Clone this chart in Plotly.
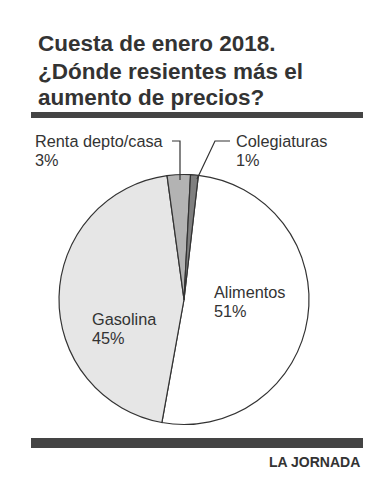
import plotly.graph_objects as go

W, H = 386, 500

categories = ["Alimentos", "Gasolina", "Renta depto/casa", "Colegiaturas"]
values = [51, 45, 3, 1]
pct_labels = ["51%", "45%", "3%", "1%"]
colors = ["#ffffff", "#e6e6e6", "#b3b3b3", "#7f7f7f"]

title_lines = ["Cuesta de enero 2018.", "¿Dónde resientes más el", "aumento de precios?"]
source = "LA JORNADA"


def px(x):
    return x / W


def py(y):
    return 1 - y / H


fig = go.Figure()
fig.add_trace(go.Pie(
    labels=categories,
    values=values,
    sort=False,
    direction="clockwise",
    rotation=6.6,
    marker=dict(colors=colors, line=dict(color="#333333", width=1.2)),
    textinfo="none",
    hoverinfo="skip",
    showlegend=False,
    domain=dict(x=[px(59), px(309)], y=[py(425), py(174)]),
))

shapes = []
# bars
shapes.append(dict(type="rect", xref="paper", yref="paper",
                   x0=px(31), x1=px(363), y0=py(118), y1=py(112),
                   fillcolor="#444444", line=dict(width=0)))
shapes.append(dict(type="rect", xref="paper", yref="paper",
                   x0=px(31), x1=px(363), y0=py(448), y1=py(438),
                   fillcolor="#444444", line=dict(width=0)))
# leader lines
shapes.append(dict(type="path", xref="paper", yref="paper",
                   path=f"M {px(172)},{py(141)} L {px(180)},{py(141)} L {px(180)},{py(180)}",
                   line=dict(color="#333333", width=1.2)))
shapes.append(dict(type="path", xref="paper", yref="paper",
                   path=f"M {px(230)},{py(141)} L {px(215)},{py(141)} L {px(197)},{py(179)}",
                   line=dict(color="#333333", width=1.2)))

annotations = []
FONT = "Liberation Sans, Arial, sans-serif"
for i, line in enumerate(title_lines):
    annotations.append(dict(text=f"<b>{line}</b>", x=px(36), y=py(44 + 27 * i),
                            xref="paper", yref="paper", xanchor="left", yanchor="middle",
                            showarrow=False, font=dict(family=FONT, size=22.5, color="#333333")))


def two_line(name, pct, x, y):
    annotations.append(dict(text=name, x=px(x), y=py(y), xref="paper", yref="paper",
                            xanchor="left", yanchor="middle", showarrow=False,
                            font=dict(family=FONT, size=16.3, color="#333333")))
    annotations.append(dict(text=pct, x=px(x), y=py(y + 19), xref="paper", yref="paper",
                            xanchor="left", yanchor="middle", showarrow=False,
                            font=dict(family=FONT, size=16.3, color="#333333")))


two_line(categories[2], pct_labels[2], 33, 141)
two_line(categories[3], pct_labels[3], 234, 141)
two_line(categories[0], pct_labels[0], 212, 292)
two_line(categories[1], pct_labels[1], 90, 319)

annotations.append(dict(text=f"<b>{source}</b>", x=px(362), y=py(462), xref="paper", yref="paper",
                        xanchor="right", yanchor="middle", showarrow=False,
                        font=dict(family=FONT, size=14, color="#333333")))

fig.update_layout(
    width=W, height=H, autosize=False,
    margin=dict(l=0, r=0, t=0, b=0),
    paper_bgcolor="white", plot_bgcolor="white",
    shapes=shapes, annotations=annotations,
)

fig.write_html("out.html", config={"displayModeBar": False},
               post_script="document.body.style.margin='0';")
